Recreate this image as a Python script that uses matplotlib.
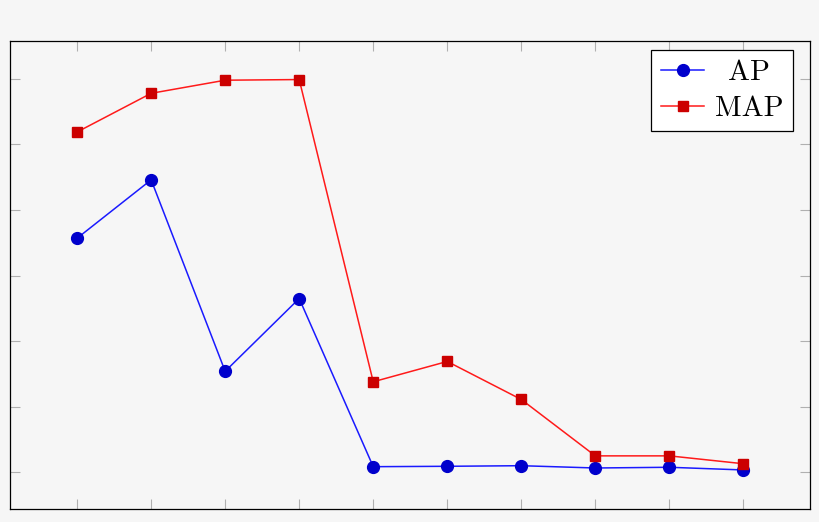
import matplotlib
matplotlib.use("Agg")
import matplotlib.pyplot as plt
import numpy as np

# values (y ticks assumed at 0, 0.1, ... 0.6)
runs = [1, 2, 3, 4, 5, 6, 7, 8, 9, 10]
ap = [0.357, 0.446, 0.154, 0.265, 0.0085, 0.0091, 0.0100, 0.0065, 0.0076, 0.0035]
map_vals = [0.519, 0.578, 0.598, 0.599, 0.138, 0.169, 0.111, 0.025, 0.025, 0.013]
y_ticks = [0.0, 0.1, 0.2, 0.3, 0.4, 0.5, 0.6]

bg = "#f6f6f6"

fig = plt.figure(figsize=(8.2, 5.22), dpi=100, facecolor=bg)
ax = fig.add_axes([0.0128, 0.0249, 0.975, 0.8975])
ax.set_facecolor(bg)

ax.plot(runs, ap, color="#1a1aff", lw=1.1, marker="o", ms=8.5,
        mfc="#0000cc", mec="#0000cc", label="AP")
ax.plot(runs, map_vals, color="#ff1a1a", lw=1.1, marker="s", ms=7.5,
        mfc="#cc0000", mec="#cc0000", label="MAP")

# pgfplots-like 10% enlargement of the limits
lo, hi = min(min(ap), min(map_vals)), max(max(ap), max(map_vals))
pad = 0.1 * (hi - lo)
ax.set_ylim(lo - pad, hi + pad)
ax.set_xlim(runs[0] - 0.1 * (runs[-1] - runs[0]), runs[-1] + 0.1 * (runs[-1] - runs[0]))

ax.set_xticks(runs)
ax.set_yticks(y_ticks)
ax.tick_params(direction="in", length=7.2, width=0.8, color="#b0b0b0",
               top=True, right=True, labelbottom=False, labelleft=False)
for s in ax.spines.values():
    s.set_linewidth(0.9)
    s.set_color("black")

leg = ax.legend(loc="upper right", bbox_to_anchor=(0.9784, 0.9797), borderaxespad=0,
                fancybox=False, edgecolor="black", framealpha=1, facecolor="white",
                prop={"family": "cmr10", "size": 21}, handlelength=1.5,
                handletextpad=0.35, labelspacing=0.32, borderpad=0.33)
leg.get_frame().set_linewidth(0.9)

# centre the legend entries like pgfplots does
fig.canvas.draw()
texts = leg.get_texts()
widths = [t.get_window_extent().width for t in texts]
for t, w in zip(texts, widths):
    t.set_x((max(widths) - w) / 2)

fig.savefig("out.png", dpi=100, facecolor=bg)
